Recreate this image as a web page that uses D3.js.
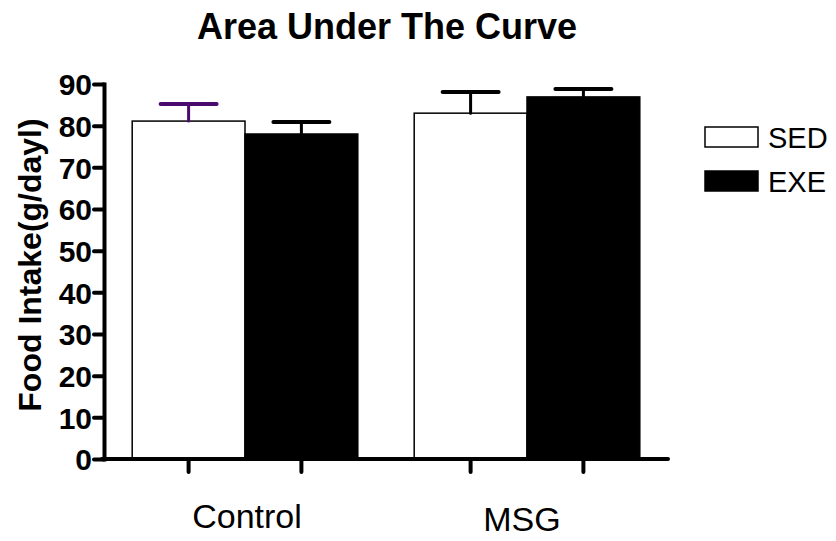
<!DOCTYPE html>
<html>
<head>
  <meta charset="utf-8">
  <style>
    body { margin: 0; background: #fff; }
    svg { display: block; font-family: "Liberation Sans", Arial, sans-serif; }
  </style>
</head>
<body>
  <div id="chart"></div>
  <script src="https://d3js.org/d3.v7.min.js"></script>
  <script>
    // data
    var categories = ["Control", "MSG"];
    var series = ["SED", "EXE"];
    var sedMeans = [81.1, 83.0];
    var sedErrors = [4.1, 5.1];
    var exeMeans = [78.0, 86.9];
    var exeErrors = [2.9, 1.9];
    var yTicks = [0, 10, 20, 30, 40, 50, 60, 70, 80, 90];

    var width = 836, height = 541;
    // plot edges in pixels
    var plotLeft = 104, plotRight = 668, plotTop = 84, plotBottom = 459;

    var rows = [];
    categories.forEach(function (c, i) {
      rows.push({cat: c, key: "SED", mean: sedMeans[i], err: sedErrors[i]});
      rows.push({cat: c, key: "EXE", mean: exeMeans[i], err: exeErrors[i]});
    });

    var svg = d3.select("#chart").append("svg")
        .attr("width", width)
        .attr("height", height);

    var x = d3.scaleBand()
        .domain(categories)
        .range([plotLeft, plotRight])
        .paddingInner(0.2)
        .paddingOuter(0.1);

    var xs = d3.scaleBand()
        .domain(series)
        .range([0, x.bandwidth()]);

    var y = d3.scaleLinear()
        .domain([0, 90])
        .range([plotBottom, plotTop]);

    var fill = d3.scaleOrdinal().domain(series).range(["#ffffff", "#000000"]);

    var barMid = d => x(d.cat) + xs(d.key) + xs.bandwidth() / 2;

    // bars
    svg.append("g").selectAll("rect")
        .data(rows)
        .enter()
        .append("rect")
        .attr("x", d => x(d.cat) + xs(d.key))
        .attr("y", d => y(d.mean))
        .attr("width", xs.bandwidth())
        .attr("height", d => y(0) - y(d.mean))
        .attr("fill", d => fill(d.key))
        .attr("stroke", "#000")
        .attr("stroke-width", 1.5);

    // error bars (upper only)
    var eb = svg.append("g").selectAll("g")
        .data(rows)
        .enter()
        .append("g")
        .attr("stroke", (d, i) => i == 0 ? "#4b0b6e" : "#000")
        .attr("stroke-linecap", "round");
    eb.append("line")
        .attr("x1", barMid)
        .attr("x2", barMid)
        .attr("y1", d => y(d.mean))
        .attr("y2", d => y(d.mean + d.err))
        .attr("stroke-width", 3);
    eb.append("line")
        .attr("x1", d => barMid(d) - 28)
        .attr("x2", d => barMid(d) + 28)
        .attr("y1", d => y(d.mean + d.err))
        .attr("y2", d => y(d.mean + d.err))
        .attr("stroke-width", 4);

    // y axis
    var yAxis = svg.append("g")
        .attr("transform", "translate(" + plotLeft + ",0)")
        .call(d3.axisLeft(y).tickValues(yTicks).tickSize(10).tickSizeOuter(0).tickPadding(2));
    yAxis.select(".domain").attr("stroke-width", 4).attr("stroke-linecap", "square");
    yAxis.selectAll(".tick line").attr("stroke-width", 4).attr("stroke-linecap", "round");
    yAxis.selectAll(".tick text")
        .attr("font-family", "Liberation Sans, Arial, sans-serif")
        .attr("font-size", 30)
        .attr("font-weight", "bold")
        .attr("fill", "#000")
        .attr("dy", "0.36em");

    // x axis line and bar ticks
    svg.append("line")
        .attr("x1", plotLeft - 2).attr("x2", plotRight)
        .attr("y1", y(0)).attr("y2", y(0))
        .attr("stroke", "#000")
        .attr("stroke-width", 4)
        .attr("stroke-linecap", "round");
    svg.append("g").selectAll("line")
        .data(rows)
        .enter()
        .append("line")
        .attr("x1", barMid)
        .attr("x2", barMid)
        .attr("y1", y(0))
        .attr("y2", y(0) + 13)
        .attr("stroke", "#000")
        .attr("stroke-width", 4)
        .attr("stroke-linecap", "round");

    // category labels (MSG label sits a little left and lower in the original)
    svg.append("g").selectAll("text")
        .data(categories)
        .enter()
        .append("text")
        .attr("x", (d, i) => x(d) + x.bandwidth() / 2 + (i == 1 ? -5 : 2))
        .attr("y", (d, i) => i == 1 ? 531 : 528)
        .attr("text-anchor", "middle")
        .attr("font-size", 34)
        .text(d => d);

    // titles
    svg.append("text")
        .attr("x", 387)
        .attr("y", 39)
        .attr("text-anchor", "middle")
        .attr("font-size", 36)
        .attr("font-weight", "bold")
        .text("Area Under The Curve");

    svg.append("text")
        .attr("transform", "translate(41,265) rotate(-90)")
        .attr("text-anchor", "middle")
        .attr("font-size", 32)
        .attr("font-weight", "bold")
        .text("Food Intake(g/dayl)");

    // legend
    var legend = svg.append("g").selectAll("g")
        .data(series)
        .enter()
        .append("g")
        .attr("transform", (d, i) => "translate(705," + (127 + i * 44) + ")");
    legend.append("rect")
        .attr("width", 53)
        .attr("height", 20)
        .attr("fill", d => fill(d))
        .attr("stroke", "#000")
        .attr("stroke-width", 1.5);
    legend.append("text")
        .attr("x", 63)
        .attr("y", 21)
        .attr("font-size", 29)
        .text(d => d);
  </script>
</body>
</html>
